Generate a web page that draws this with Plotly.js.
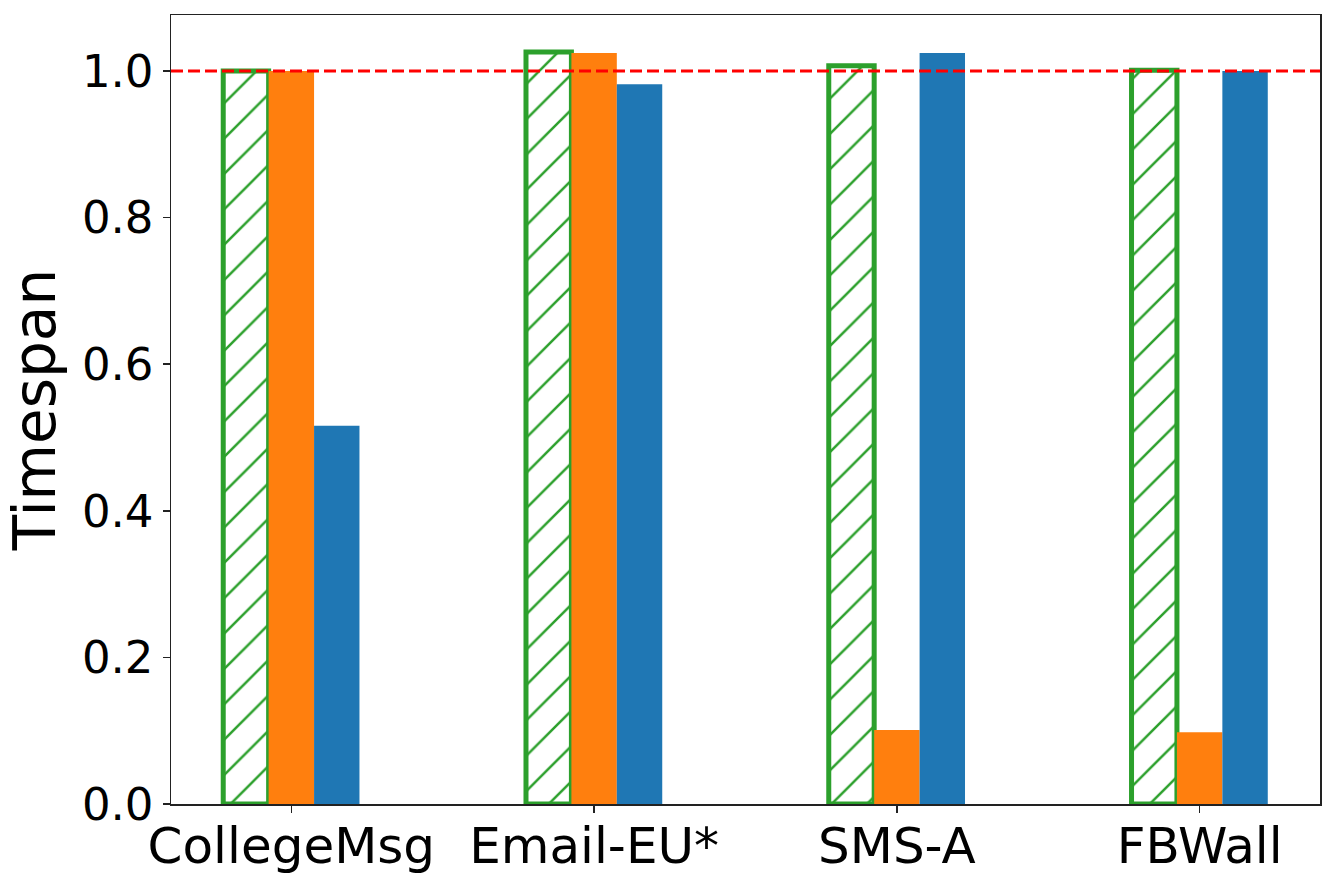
<!DOCTYPE html>
<html>
<head>
<meta charset="utf-8">
<script src="https://cdn.plot.ly/plotly-3.0.1.min.js"></script>
<style>
  body { margin: 0; background: #fff; }
  #chart { width: 1334px; height: 883px; }
</style>
</head>
<body>
<div id="chart"></div>
<script>
const datasets = ['CollegeMsg', 'Email-EU*', 'SMS-A', 'FBWall'];
const positions = [0, 1, 2, 3];
const greenVals = [1.0, 1.026, 1.007, 1.001];
const orangeVals = [1.0, 1.0245, 0.101, 0.098];
const blueVals = [0.516, 0.982, 1.0245, 1.0];

const barWidth = 0.15;

const traces = [
  {
    x: positions, y: greenVals, type: 'bar',
    width: barWidth, offset: -1.5 * barWidth,
    marker: {
      color: 'white',
      line: { color: '#2ca02c', width: 5 },
      pattern: { shape: '/', fgcolor: '#2ca02c', bgcolor: 'white', size: 25, solidity: 0.1 },
    },
    showlegend: false,
  },
  {
    x: positions, y: orangeVals, type: 'bar',
    width: barWidth, offset: -0.5 * barWidth,
    marker: { color: '#ff7f0e', line: { width: 0 } },
    showlegend: false,
  },
  {
    x: positions, y: blueVals, type: 'bar',
    width: barWidth, offset: 0.5 * barWidth,
    marker: { color: '#1f77b4', line: { width: 0 } },
    showlegend: false,
  },
];

const layout = {
  width: 1334,
  height: 883,
  margin: { l: 171, r: 14, t: 15, b: 79 },
  barmode: 'overlay',
  paper_bgcolor: 'white',
  plot_bgcolor: 'white',
  font: { family: 'DejaVu Sans', color: 'black' },
  xaxis: {
    range: [-0.3975, 3.3975],
    tickvals: positions,
    ticktext: datasets,
    tickfont: { size: 50 },
    ticklabelstandoff: -10,
    ticks: 'outside', ticklen: 7, tickwidth: 1.5, tickcolor: '#222',
    showline: true, mirror: true, linecolor: '#222', linewidth: 1.5,
    showgrid: false, zeroline: false,
  },
  yaxis: {
    range: [0, 1.0764],
    tickvals: [0, 0.2, 0.4, 0.6, 0.8, 1.0],
    ticktext: ['0.0', '0.2', '0.4', '0.6', '0.8', '1.0'],
    tickfont: { size: 45 },
    ticks: 'outside', ticklen: 7, tickwidth: 1.5, tickcolor: '#222',
    showline: true, mirror: true, linecolor: '#222', linewidth: 1.5,
    showgrid: false, zeroline: false,
    title: { text: 'Timespan', font: { size: 58 }, standoff: 7 },
  },
  shapes: [
    {
      type: 'line', xref: 'paper', x0: 0, x1: 1, yref: 'y', y0: 1.0, y1: 1.0,
      line: { color: 'red', width: 3, dash: '12px,5px' },
    },
  ],
};

Plotly.newPlot('chart', traces, layout, { staticPlot: true });
</script>
</body>
</html>
